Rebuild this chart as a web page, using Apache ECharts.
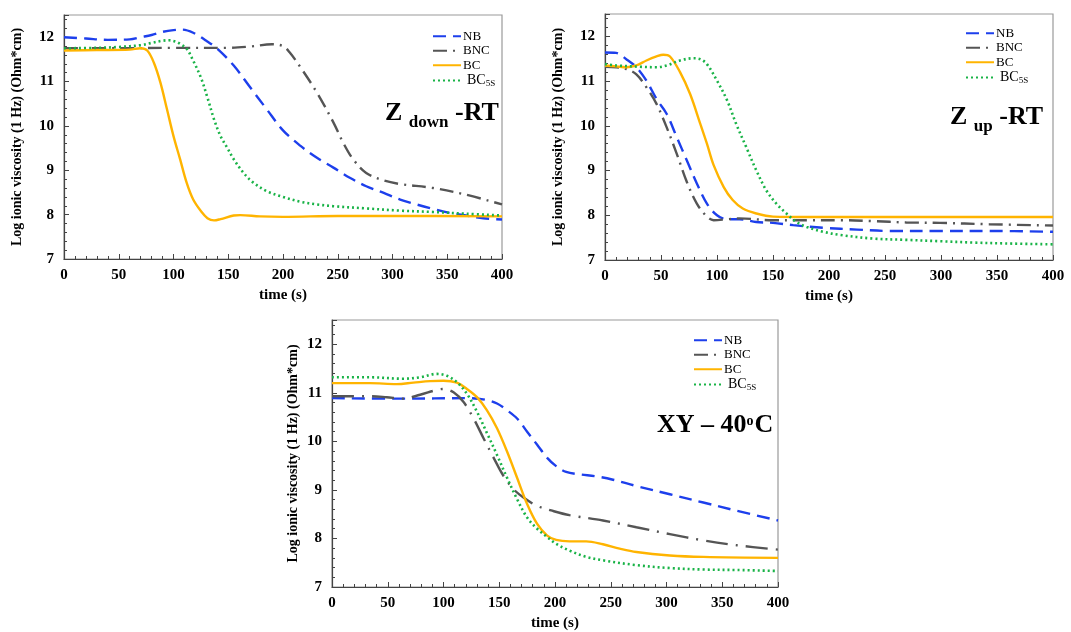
<!DOCTYPE html>
<html>
<head>
<meta charset="utf-8">
<script src="https://cdn.jsdelivr.net/npm/echarts@6/dist/echarts.min.js"></script>
<style>
  html, body { margin: 0; padding: 0; background: #fff; }
  #chart { width: 1071px; height: 632px; }
</style>
</head>
<body>
<div id="chart"></div>
<script>
// series names
const seriesNames = ["NB", "BNC", "BC", "BC5S"];
const yTicks = [7, 8, 9, 10, 11, 12];
const xTicks = [0, 50, 100, 150, 200, 250, 300, 350, 400];

// Z down - RT  ([time s, log ionic viscosity])
const zDownNB = [[0,12.0],[20,11.97],[40,11.94],[60,11.95],[70,12.0],[80,12.05],[90,12.12],[100,12.16],[108,12.17],[118,12.1],[130,11.92],[140,11.74],[155,11.36],[170,10.87],[185,10.38],[200,9.9],[216,9.55],[231,9.28],[246,9.06],[261,8.83],[276,8.64],[292,8.49],[307,8.34],[322,8.23],[337,8.13],[352,8.04],[367,7.98],[383,7.92],[400,7.89]];
const zDownBNC = [[0,11.75],[50,11.75],[100,11.76],[150,11.76],[170,11.79],[190,11.84],[200,11.8],[206,11.66],[216,11.32],[231,10.75],[246,10.08],[255,9.62],[264,9.25],[276,8.94],[292,8.77],[307,8.69],[337,8.6],[367,8.45],[400,8.23]];
const zDownBC = [[0,11.7],[30,11.71],[60,11.72],[70,11.75],[76,11.7],[82,11.43],[88,10.98],[94,10.38],[100,9.77],[106,9.25],[112,8.72],[118,8.34],[125,8.08],[131,7.92],[137,7.87],[143,7.9],[155,7.98],[161,7.99],[179,7.96],[200,7.95],[250,7.97],[300,7.97],[400,7.96]];
const zDownBC5S = [[0,11.75],[30,11.76],[50,11.78],[70,11.82],[80,11.87],[90,11.92],[96,11.93],[102,11.9],[106,11.85],[112,11.74],[118,11.47],[125,11.09],[131,10.64],[137,10.15],[143,9.77],[149,9.51],[155,9.25],[164,8.94],[173,8.72],[185,8.53],[200,8.4],[216,8.29],[231,8.23],[246,8.19],[276,8.14],[307,8.09],[337,8.06],[367,8.02],[400,7.98]];

// Z up - RT
const zUpNB = [[0,11.64],[10,11.63],[19,11.49],[28,11.31],[37,11.01],[46,10.6],[55,10.27],[64,9.75],[73,9.23],[82,8.71],[91,8.26],[100,8.0],[109,7.91],[120,7.91],[135,7.85],[150,7.83],[168,7.78],[195,7.72],[225,7.68],[254,7.65],[300,7.65],[343,7.65],[400,7.63]];
const zUpBNC = [[0,11.32],[10,11.31],[19,11.27],[28,11.15],[37,10.86],[46,10.49],[55,9.97],[64,9.38],[73,8.75],[82,8.26],[91,7.97],[97,7.89],[109,7.91],[120,7.93],[150,7.89],[180,7.89],[210,7.89],[239,7.87],[269,7.84],[299,7.83],[343,7.8],[400,7.77]];
const zUpBC = [[0,11.35],[10,11.33],[19,11.31],[28,11.35],[37,11.46],[46,11.55],[52,11.59],[58,11.55],[67,11.2],[76,10.71],[85,10.05],[91,9.6],[97,9.12],[106,8.63],[114,8.34],[123,8.15],[135,8.04],[150,7.97],[180,7.96],[400,7.96]];
const zUpBC5S = [[0,11.38],[10,11.35],[31,11.32],[46,11.31],[55,11.35],[67,11.46],[79,11.51],[85,11.49],[91,11.38],[100,11.01],[109,10.57],[117,10.05],[126,9.53],[135,9.01],[144,8.56],[153,8.26],[162,8.04],[171,7.85],[180,7.74],[195,7.63],[210,7.56],[239,7.48],[269,7.45],[299,7.42],[329,7.39],[358,7.37],[400,7.35]];

// XY - 40 C
const xyNB = [[0,10.89],[60,10.88],[124,10.89],[139,10.85],[148,10.78],[157,10.64],[166,10.47],[175,10.2],[184,9.93],[193,9.66],[201,9.49],[210,9.37],[222,9.32],[237,9.28],[252,9.21],[273,9.08],[303,8.91],[333,8.74],[363,8.57],[400,8.37]];
const xyBNC = [[0,10.93],[34,10.93],[49,10.91],[64,10.88],[79,10.96],[94,11.06],[100,11.08],[109,11.01],[118,10.81],[127,10.47],[136,10.06],[145,9.66],[154,9.28],[163,9.01],[172,8.84],[184,8.67],[199,8.56],[213,8.48],[243,8.37],[273,8.23],[303,8.09],[333,7.96],[363,7.86],[400,7.77]];
const xyBC = [[0,11.2],[34,11.2],[58,11.18],[73,11.21],[88,11.24],[100,11.25],[112,11.21],[121,11.08],[130,10.91],[139,10.64],[148,10.27],[157,9.79],[166,9.25],[175,8.71],[184,8.3],[193,8.06],[201,7.97],[213,7.94],[228,7.94],[243,7.88],[258,7.79],[273,7.72],[303,7.65],[333,7.62],[400,7.6]];
const xyBC5S = [[0,11.32],[34,11.32],[64,11.29],[79,11.32],[94,11.39],[103,11.35],[112,11.22],[121,10.98],[130,10.61],[139,10.17],[148,9.72],[157,9.25],[166,8.81],[175,8.43],[184,8.2],[193,8.03],[201,7.89],[213,7.75],[228,7.62],[243,7.55],[273,7.45],[303,7.39],[333,7.36],[363,7.35],[400,7.33]];

const FONT = "'Liberation Serif', 'Times New Roman', serif";
const colors = { NB: "#1d3fec", BNC: "#555555", BC: "#ffb400", BC5S: "#19b347" };

const panels = [
  { grid: { left: 64, top: 15, width: 438, height: 244 }, nameGap: 40,
    legend: { left: 432, top: 29 }, bncDash: [14, 6, 2, 6],
    title: { left: 385, top: 100, text: "{a|Z }{b|down}{a| -RT}" },
    data: [zDownNB, zDownBNC, zDownBC, zDownBC5S] },
  { grid: { left: 605, top: 14, width: 448, height: 246 }, nameGap: 40,
    legend: { left: 965, top: 26 }, bncDash: [14, 6, 2, 6],
    title: { left: 950, top: 104, text: "{a|Z }{b|up}{a| -RT}" },
    data: [zUpNB, zUpBNC, zUpBC, zUpBC5S] },
  { grid: { left: 332, top: 320, width: 446, height: 270 }, nameGap: 32,
    legend: { left: 693, top: 333 }, bncDash: [22, 8, 2, 8],
    title: { left: 657, top: 412, text: "{a|XY – 40}{o|o}{a|C}" },
    data: [xyNB, xyBNC, xyBC, xyBC5S] },
];

const labelStyle = { fontFamily: FONT, fontWeight: "bold", fontSize: 15, color: "#000" };

const option = {
  backgroundColor: "#fff",
  animation: false,
  textStyle: { fontFamily: FONT },
  grid: panels.map((p) => Object.assign({ show: true, borderColor: "#9a9a9a", borderWidth: 1.2, backgroundColor: "#fff" }, p.grid)),
  title: panels.map((p) => ({
    left: p.title.left, top: p.title.top, padding: 0,
    text: p.title.text,
    textStyle: {
      rich: {
        a: { fontFamily: FONT, fontWeight: "bold", fontSize: 26, color: "#000", lineHeight: 30, verticalAlign: "top" },
        b: { fontFamily: FONT, fontWeight: "bold", fontSize: 17, color: "#000", lineHeight: 20, verticalAlign: "top", padding: [14, 0, 0, 0] },
        o: { fontFamily: FONT, fontWeight: "bold", fontSize: 14, color: "#000", lineHeight: 16, verticalAlign: "top", padding: [2, 1, 0, 0] },
      },
    },
  })),
  legend: panels.map((p) => ({
    left: p.legend.left, top: p.legend.top, orient: "vertical",
    itemWidth: 28, itemHeight: 10, itemGap: 0, padding: 0,
    itemStyle: { opacity: 0 },
    data: seriesNames,
    formatter: (name) => (name === "BC5S" ? "{n|BC}{s|5S}" : name),
    textStyle: {
      fontFamily: FONT, fontSize: 13, color: "#000", lineHeight: 14.5, padding: [0, 0, 0, -3],
      rich: {
        n: { fontFamily: FONT, fontSize: 14, color: "#000", lineHeight: 16, padding: [0, 0, 0, 4] },
        s: { fontFamily: FONT, fontSize: 9, color: "#000", lineHeight: 10, padding: [6, 0, 0, 0] },
      },
    },
  })),
  xAxis: panels.map((p, i) => ({
    type: "value", gridIndex: i, min: 0, max: 400, interval: 50,
    name: "time (s)", nameLocation: "middle", nameGap: 29,
    nameTextStyle: labelStyle,
    axisLine: { show: true, lineStyle: { color: "#444", width: 1.2 } },
    axisTick: { show: true, inside: true, length: 5, lineStyle: { color: "#444" } },
    minorTick: { show: true, splitNumber: 5, length: 3, lineStyle: { color: "#444" } },
    splitLine: { show: false },
    axisLabel: Object.assign({ margin: 9 }, labelStyle),
  })),
  yAxis: panels.map((p, i) => ({
    type: "value", gridIndex: i, min: 7, max: 12.5, interval: 1,
    name: "Log ionic viscosity (1 Hz) (Ohm*cm)", nameLocation: "middle", nameGap: p.nameGap,
    nameTextStyle: Object.assign({}, labelStyle, { fontSize: 14 }),
    axisLine: { show: true, lineStyle: { color: "#444", width: 1.2 } },
    axisTick: { show: true, inside: true, length: 5, lineStyle: { color: "#444" } },
    minorTick: { show: true, splitNumber: 5, length: 3, lineStyle: { color: "#444" } },
    splitLine: { show: false },
    axisLabel: Object.assign({ margin: 10, showMaxLabel: false }, labelStyle),
  })),
  series: [],
};

panels.forEach((p, i) => {
  const dashes = { NB: [13, 7], BNC: p.bncDash, BC: "solid", BC5S: [2, 3] };
  seriesNames.forEach((name, k) => {
    option.series.push({
      type: "line", name, xAxisIndex: i, yAxisIndex: i,
      data: p.data[k], smooth: 0.35, symbol: "none",
      lineStyle: { color: colors[name], width: name === "BC5S" ? 2.6 : 2.4, type: dashes[name] },
      itemStyle: { color: colors[name] },
      z: 3 + k,
    });
  });
});

const chart = echarts.init(document.getElementById("chart"), null, { renderer: "canvas" });
chart.setOption(option);
</script>
</body>
</html>
